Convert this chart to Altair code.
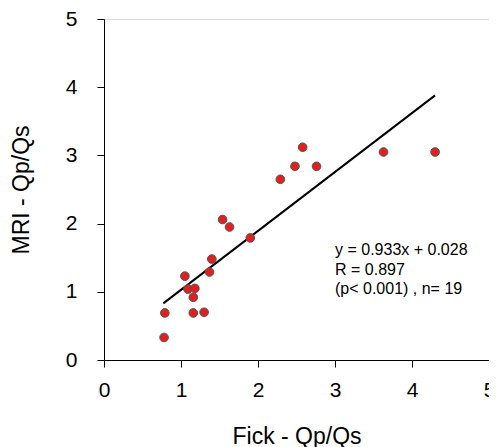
import altair as alt
import pandas as pd

fick = [0.78, 0.79, 1.05, 1.09, 1.18, 1.16, 1.16, 1.30, 1.37, 1.40,
        1.54, 1.63, 1.90, 2.29, 2.48, 2.58, 2.76, 3.63, 4.30]
mri = [0.33, 0.69, 1.23, 1.04, 1.05, 0.92, 0.69, 0.70, 1.29, 1.48,
       2.06, 1.95, 1.79, 2.65, 2.84, 3.12, 2.84, 3.05, 3.05]

line_x = [0.77, 4.30]
line_y = [0.83, 3.88]

annotation = ["y = 0.933x + 0.028", "R = 0.897", "(p< 0.001) , n= 19"]

pts = pd.DataFrame({"fick": fick, "mri": mri})
fit = pd.DataFrame({"fick": line_x, "mri": line_y})

FONT = "Liberation Sans"

xscale = alt.Scale(domain=[0, 5], nice=False)
yscale = alt.Scale(domain=[0, 5], nice=False)

xaxis = alt.Axis(title="Fick - Qp/Qs", values=[0, 1, 2, 3, 4, 5], format="d",
                 grid=False, domainColor="black", tickColor="black", tickSize=7,
                 labelFontSize=21, labelColor="black", labelFont=FONT,
                 labelPadding=12, titleFontSize=23, titleFont=FONT,
                 titleFontWeight="normal", titleColor="black", titlePadding=25,
                 labelFlush=False)
yaxis = alt.Axis(title="MRI - Qp/Qs", values=[0, 1, 2, 3, 4, 5], format="d",
                 grid=False, domainColor="black", tickColor="black", tickSize=7,
                 labelFontSize=21, labelColor="black", labelFont=FONT,
                 labelPadding=20, titleFontSize=23, titleFont=FONT,
                 titleFontWeight="normal", titleColor="black", titlePadding=32,
                 labelFlush=False)

line = alt.Chart(fit).mark_line(color="black", strokeWidth=2).encode(
    x=alt.X("fick:Q", scale=xscale, axis=xaxis),
    y=alt.Y("mri:Q", scale=yscale, axis=yaxis),
)

points = alt.Chart(pts).mark_point(filled=True, fill="#e02020", stroke="#555555",
                                   strokeWidth=1, size=75, opacity=1,
                                   fillOpacity=1).encode(
    x=alt.X("fick:Q", scale=xscale),
    y=alt.Y("mri:Q", scale=yscale),
)

text = alt.Chart(pd.DataFrame({"t": [annotation]})).mark_text(
    align="left", baseline="middle", fontSize=16, font=FONT, color="black",
    lineHeight=19.5).encode(
    text="t",
    x=alt.value(231),
    y=alt.value(231),
)

chart = alt.layer(line, points, text).properties(
    width=385, height=341,
    autosize=alt.AutoSizeParams(type="none"),
    padding={"left": 96, "top": 11, "right": 0, "bottom": 88},
).configure_view(stroke=None).configure(background="white")

chart.save("out.html", embed_options={"renderer": "svg", "actions": False})
